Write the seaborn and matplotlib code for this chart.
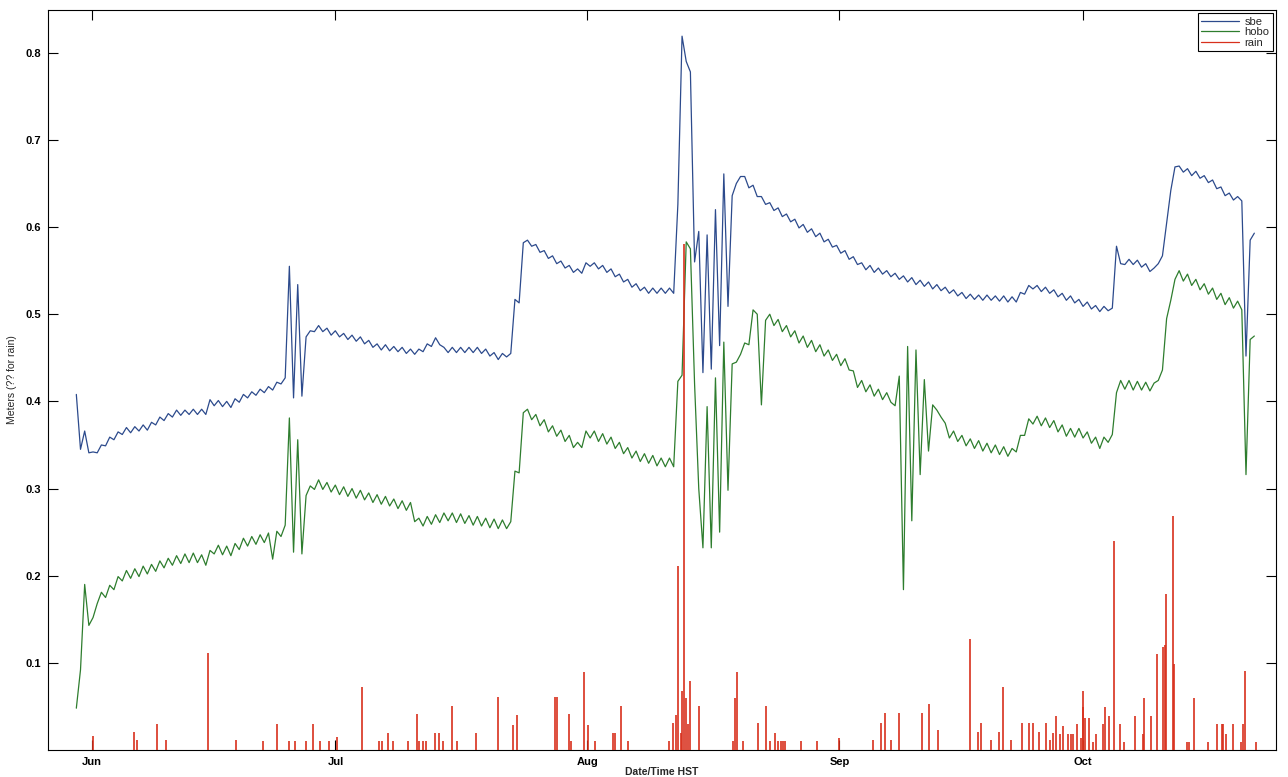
import numpy as np
import pandas as pd
import seaborn as sns
import matplotlib.pyplot as plt
from matplotlib.lines import Line2D

# water level (mm), one reading about every 12.3 h starting at `start`
start = '2012-05-30 03:00'
step = '740min'

sbe_mm = [
    408, 345, 366, 341, 342, 341, 350, 349, 359, 356, 365, 362, 370, 364, 371, 366, 373, 367, 376, 373,
    382, 378, 386, 382, 390, 384, 390, 385, 391, 385, 391, 385, 402, 395, 401, 394, 400, 393, 403, 399,
    408, 404, 411, 407, 414, 410, 417, 413, 422, 420, 427, 555, 404, 534, 406, 474, 481, 480, 487, 480,
    484, 476, 481, 474, 478, 471, 476, 469, 474, 466, 470, 462, 466, 459, 465, 458, 463, 457, 462, 455,
    460, 454, 460, 457, 466, 463, 473, 465, 462, 456, 462, 456, 462, 456, 462, 456, 462, 455, 460, 452,
    456, 448, 455, 451, 455, 517, 513, 582, 585, 578, 580, 571, 573, 564, 567, 558, 561, 553, 556, 548,
    552, 547, 559, 555, 559, 552, 556, 548, 552, 543, 546, 537, 540, 531, 535, 527, 531, 524, 530, 524,
    530, 524, 530, 524, 626, 819, 790, 778, 560, 595, 433, 591, 437, 620, 464, 661, 509, 636, 650, 658,
    658, 645, 648, 635, 635, 626, 628, 619, 622, 612, 615, 606, 609, 599, 603, 594, 598, 589, 593, 583,
    586, 577, 579, 570, 573, 563, 566, 557, 559, 551, 556, 548, 553, 546, 550, 543, 547, 540, 544, 537,
    542, 534, 539, 532, 537, 529, 534, 527, 531, 524, 528, 521, 525, 518, 523, 517, 522, 516, 522, 516,
    521, 515, 521, 514, 520, 514, 525, 523, 533, 529, 533, 526, 531, 524, 528, 520, 524, 516, 521, 513,
    517, 509, 514, 506, 510, 503, 509, 504, 507, 578, 558, 557, 563, 557, 562, 554, 558, 549, 553, 558,
    567, 605, 642, 669, 670, 663, 667, 659, 664, 656, 659, 651, 654, 644, 646, 636, 639, 631, 635, 630,
    452, 585, 593,
]

hobo_mm = [
    48, 92, 190, 143, 152, 168, 181, 175, 189, 184, 199, 194, 206, 197, 208, 199, 211, 202, 213, 205,
    217, 209, 220, 212, 223, 214, 225, 215, 226, 215, 224, 212, 229, 225, 235, 224, 234, 223, 237, 230,
    243, 234, 245, 236, 247, 238, 249, 219, 251, 245, 258, 381, 227, 356, 225, 292, 303, 299, 310, 299,
    307, 296, 304, 293, 302, 291, 300, 289, 298, 287, 295, 284, 293, 282, 291, 280, 288, 277, 286, 275,
    284, 262, 266, 257, 268, 259, 270, 261, 272, 263, 272, 261, 271, 260, 269, 258, 268, 257, 266, 255,
    265, 254, 264, 254, 262, 320, 318, 387, 391, 379, 385, 372, 379, 365, 372, 360, 367, 354, 361, 347,
    353, 347, 366, 358, 366, 354, 363, 351, 359, 346, 353, 340, 347, 335, 343, 331, 340, 329, 338, 326,
    335, 325, 335, 325, 423, 430, 583, 575, 420, 300, 232, 394, 232, 427, 250, 468, 298, 443, 445, 454,
    467, 465, 505, 500, 396, 493, 500, 487, 494, 480, 487, 474, 481, 467, 475, 462, 470, 457, 465, 452,
    459, 447, 454, 441, 449, 436, 435, 416, 424, 411, 419, 406, 414, 402, 410, 399, 395, 429, 184, 463,
    263, 459, 316, 425, 343, 396, 390, 382, 375, 358, 366, 354, 361, 349, 357, 346, 355, 343, 352, 341,
    350, 339, 348, 337, 346, 342, 361, 361, 380, 374, 383, 372, 381, 370, 378, 365, 373, 360, 369, 359,
    369, 358, 365, 352, 359, 346, 359, 353, 362, 410, 424, 414, 424, 413, 423, 413, 422, 412, 421, 424,
    436, 495, 516, 540, 550, 538, 546, 533, 540, 528, 535, 523, 530, 517, 524, 511, 519, 507, 515, 505,
    316, 471, 475,
]

# rain gauge: days after Jun 1, amount
rain_day = [
    0.15, 5.19, 5.58, 8.11, 9.14, 14.30, 17.81, 21.09, 22.85, 24.28, 25.04, 26.36, 27.24, 28.12,
    29.21, 30.15, 33.27, 35.36, 35.73, 36.46, 37.11, 38.93, 40.02, 40.28, 40.74, 41.12, 42.21,
    42.76, 43.20, 44.40, 44.96, 47.26, 50.05, 51.81, 52.36, 57.01, 57.29, 58.72, 59.04, 60.58,
    61.13, 61.89, 64.14, 64.42, 65.08, 65.95, 71.03, 71.52, 71.86, 72.10, 72.47, 72.60, 72.88,
    73.12, 73.37, 73.62, 74.73, 78.91, 79.15, 79.36, 80.14, 81.98, 82.97, 83.46, 84.07, 84.44,
    84.81, 85.06, 85.30, 87.23, 89.20, 91.94, 96.09, 97.15, 97.60, 98.34, 99.35, 102.15, 103.01,
    104.11, 108.11, 109.00, 109.36, 110.64, 111.66, 112.12, 113.16, 114.51, 115.36, 115.77,
    116.52, 117.37, 117.90, 118.27, 118.64, 119.13, 119.50, 120.11, 120.48, 120.73, 121.18,
    121.67, 121.92, 122.02, 122.20, 122.69, 123.15, 123.52, 124.38, 124.70, 125.15, 125.81,
    126.51, 127.00, 128.39, 129.30, 129.49, 130.36, 131.02, 131.83, 132.04, 132.20, 133.06,
    133.19, 134.75, 135.00, 135.61, 137.29, 138.40, 139.02, 139.21, 139.54, 140.37, 141.35,
    141.60, 141.84, 143.19,
]
rain_m = [
    0.016, 0.021, 0.011, 0.030, 0.011, 0.111, 0.011, 0.010, 0.030, 0.010, 0.010, 0.010, 0.030, 0.010,
    0.010, 0.015, 0.072, 0.010, 0.010, 0.020, 0.010, 0.010, 0.041, 0.010, 0.010, 0.010, 0.020,
    0.020, 0.010, 0.051, 0.010, 0.020, 0.061, 0.029, 0.040, 0.061, 0.061, 0.041, 0.010, 0.090,
    0.029, 0.010, 0.020, 0.020, 0.051, 0.010, 0.010, 0.031, 0.040, 0.211, 0.020, 0.068, 0.580,
    0.060, 0.030, 0.079, 0.050, 0.010, 0.060, 0.090, 0.010, 0.031, 0.050, 0.010, 0.020, 0.010,
    0.010, 0.010, 0.010, 0.010, 0.010, 0.014, 0.011, 0.031, 0.043, 0.011, 0.043, 0.043, 0.053,
    0.023, 0.127, 0.021, 0.031, 0.011, 0.021, 0.072, 0.011, 0.031, 0.031, 0.031,
    0.021, 0.031, 0.011, 0.020, 0.039, 0.018, 0.028, 0.018, 0.018, 0.018, 0.030,
    0.014, 0.068, 0.049, 0.037, 0.037, 0.009, 0.018, 0.030, 0.049, 0.039, 0.240,
    0.030, 0.009, 0.039, 0.018, 0.060, 0.039, 0.110, 0.118, 0.120, 0.179, 0.269,
    0.099, 0.009, 0.009, 0.060, 0.009, 0.030, 0.030, 0.030, 0.018, 0.030, 0.009,
    0.030, 0.091, 0.009,
]

c_sbe = '#2c4a8c'
c_hobo = '#2e7d2e'
c_rain = '#d8301c'

t_sbe = pd.date_range(start, periods=len(sbe_mm), freq=step)
t_hobo = pd.date_range(start, periods=len(hobo_mm), freq=step)
df = pd.concat([
    pd.DataFrame({'time': t_sbe, 'level': np.array(sbe_mm) / 1000, 'sensor': 'sbe'}),
    pd.DataFrame({'time': t_hobo, 'level': np.array(hobo_mm) / 1000, 'sensor': 'hobo'}),
])
rain_t = pd.Timestamp('2012-06-01') + pd.to_timedelta(rain_day, unit='D')

sns.set_style('ticks')
plt.rcParams['font.family'] = ['Liberation Sans', 'DejaVu Sans']

fig = plt.figure(figsize=(12.88, 7.77), dpi=100)
ax = fig.add_axes([0.0373, 0.0347, 0.9534, 0.9524])

sns.lineplot(data=df, x='time', y='level', hue='sensor', palette={'sbe': c_sbe, 'hobo': c_hobo},
             linewidth=0.9, estimator=None, legend=False, ax=ax)
ax.vlines(rain_t, 0, rain_m, color=c_rain, linewidth=1.2, zorder=3)

ax.set_xlim(pd.Timestamp('2012-05-26 15:30'), pd.Timestamp('2012-10-24 17:00'))
ax.set_ylim(0, 0.849)

months = pd.to_datetime(['2012-06-01', '2012-07-01', '2012-08-01', '2012-09-01', '2012-10-01'])
ax.set_xticks(months)
ax.set_xticklabels([m.strftime('%b') for m in months], fontsize=8, fontweight='bold')
yt = [0.1, 0.2, 0.3, 0.4, 0.5, 0.6, 0.7, 0.8]
ax.set_yticks(yt)
ax.set_yticklabels([f'{v:.1f}' for v in yt], fontsize=8, fontweight='bold')
ax.tick_params(direction='in', top=True, right=True, length=7, width=0.8, pad=5, colors='black')

ax.set_xlabel('Date/Time HST', fontsize=7.5, fontweight='bold', labelpad=0)
ax.set_ylabel('Meters (?? for rain)', fontsize=7.5, labelpad=6)
for s in ax.spines.values():
    s.set_color('black')
    s.set_linewidth(0.8)

handles = [Line2D([], [], color=c_sbe, lw=0.9), Line2D([], [], color=c_hobo, lw=0.9),
           Line2D([], [], color=c_rain, lw=0.9)]
leg = ax.legend(handles, ['sbe', 'hobo', 'rain'], loc='upper right', fontsize=8, frameon=True,
                fancybox=False, edgecolor='black', framealpha=1, borderaxespad=0.3,
                handlelength=3.4, labelspacing=0.05, borderpad=0.3, handletextpad=0.5)
leg.get_frame().set_linewidth(0.8)

fig.savefig('out.png', dpi=100)
